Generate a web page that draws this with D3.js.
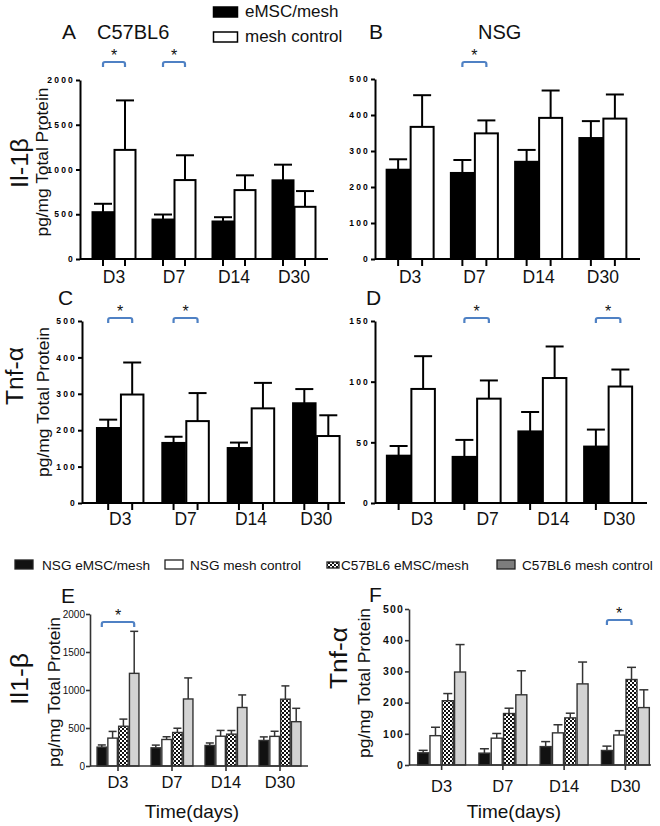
<!DOCTYPE html>
<html>
<head>
<meta charset="utf-8">
<script src="https://cdn.jsdelivr.net/npm/d3@7"></script>
<style>
  html, body { margin: 0; padding: 0; background: #fff; }
  svg { display: block; font-family: "Liberation Sans", Arial, Helvetica, sans-serif; }
</style>
</head>
<body>
<svg id="chart" width="660" height="826"></svg>
<script>
// ---------------- DATA ----------------
const days = ["D3", "D7", "D14", "D30"];

// C57BL6 Il-1β (pg/mg total protein): mean and SEM
const c57Il1bEmsc    = [523, 441, 419, 879];
const c57Il1bEmscErr = [94, 56, 48, 175];
const c57Il1bMesh    = [1219, 882, 770, 583];
const c57Il1bMeshErr = [553, 277, 165, 176];

// NSG Il-1β
const nsgIl1bEmsc    = [248, 239, 270, 336];
const nsgIl1bEmscErr = [29, 36, 33, 47];
const nsgIl1bMesh    = [367, 349, 392, 390];
const nsgIl1bMeshErr = [88, 36, 76, 67];

// C57BL6 Tnf-α
const c57TnfEmsc    = [206, 165, 151, 274];
const c57TnfEmscErr = [23, 17, 15, 39];
const c57TnfMesh    = [298, 225, 260, 184];
const c57TnfMeshErr = [88, 77, 70, 57];

// NSG Tnf-α
const nsgTnfEmsc    = [39, 38, 59, 46.5];
const nsgTnfEmscErr = [8, 14, 16, 14];
const nsgTnfMesh    = [94, 86, 103, 96];
const nsgTnfMeshErr = [27, 15, 26, 14];

// tick labels
const il1bTicks    = [0, 500, 1000, 1500, 2000];
const nsgIl1bTicks = [0, 100, 200, 300, 400, 500];
const tnfTicks     = [0, 100, 200, 300, 400, 500];
const nsgTnfTicks  = [0, 50, 100, 150];

// legends
const topLegend    = ["eMSC/mesh", "mesh control"];
const bottomLegend = ["NSG eMSC/mesh", "NSG mesh control", "C57BL6 eMSC/mesh", "C57BL6 mesh control"];

// significance brackets (day, from series, to series)
const sigA = [{day: "D3", from: 0, to: 1}, {day: "D7", from: 0, to: 1}];
const sigB = [{day: "D7", from: 0, to: 1}];
const sigC = [{day: "D3", from: 0, to: 1}, {day: "D7", from: 0, to: 1}];
const sigD = [{day: "D7", from: 0, to: 1}, {day: "D30", from: 0, to: 1}];
const sigE = [{day: "D3", from: 0, to: 3}];
const sigF = [{day: "D30", from: 0, to: 2}];

// ---------------- DRAWING ----------------
const svg = d3.select("#chart");
const defs = svg.append("defs");
const pat = defs.append("pattern").attr("id", "checker")
  .attr("patternUnits", "userSpaceOnUse").attr("width", 4).attr("height", 4);
pat.append("rect").attr("width", 4).attr("height", 4).attr("fill", "#111");
pat.append("rect").attr("x", 0).attr("y", 0).attr("width", 2).attr("height", 2).attr("fill", "#fff");
pat.append("rect").attr("x", 2).attr("y", 2).attr("width", 2).attr("height", 2).attr("fill", "#fff");

const BLUE = "#4f81c4";

const styleTop = [
  {fill: "#000", stroke: "#000"},
  {fill: "#fff", stroke: "#000"}
];
const styleBottom = [
  {fill: "#111", stroke: "#333"},
  {fill: "#fff", stroke: "#333"},
  {fill: "url(#checker)", stroke: "#333"},
  {fill: "#d3d3d3", stroke: "#333"}
];

function drawPanel(cfg) {
  const g = svg.append("g");
  const x = d3.scaleBand().domain(days).range(cfg.xRange);
  const y = d3.scaleLinear().domain([0, cfg.yMax]).range([cfg.y0, cfg.y1]);
  const n = cfg.series.length;
  const cx = (d, i) => x(d) + x.bandwidth() / 2 + (i - (n - 1) / 2) * cfg.barStep;

  // error bars
  cfg.series.forEach((s, i) => {
    const rows = days.map((d, j) => ({d, v: s.values[j], e: s.err[j]}));
    const eg = g.append("g").attr("stroke", cfg.errColor).attr("stroke-width", cfg.errWidth);
    eg.selectAll("line.v").data(rows).join("line").attr("class", "v")
      .attr("x1", r => cx(r.d, i)).attr("x2", r => cx(r.d, i))
      .attr("y1", r => y(r.v)).attr("y2", r => y(r.v + r.e));
    eg.selectAll("line.c").data(rows).join("line").attr("class", "c")
      .attr("x1", r => cx(r.d, i) - cfg.capW / 2).attr("x2", r => cx(r.d, i) + cfg.capW / 2)
      .attr("y1", r => y(r.v + r.e)).attr("y2", r => y(r.v + r.e));
  });

  // bars
  cfg.series.forEach((s, i) => {
    const rows = days.map((d, j) => ({d, v: s.values[j]}));
    g.append("g").selectAll("rect").data(rows).join("rect")
      .attr("x", r => cx(r.d, i) - cfg.barW / 2)
      .attr("y", r => y(r.v))
      .attr("width", cfg.barW)
      .attr("height", r => y(0) - y(r.v))
      .attr("fill", cfg.styles[i].fill)
      .attr("stroke", cfg.styles[i].stroke)
      .attr("stroke-width", cfg.barStroke);
  });

  // y axis
  const ya = g.append("g").attr("transform", `translate(${cfg.axisX},0)`)
    .call(d3.axisLeft(y).tickValues(cfg.ticks).tickFormat(d3.format("d"))
      .tickSize(cfg.yTickSize).tickSizeOuter(0).tickPadding(1));
  ya.select(".domain").attr("stroke", cfg.axisColor).attr("stroke-width", cfg.axisWidth);
  ya.selectAll(".tick line").attr("stroke", cfg.axisColor).attr("stroke-width", cfg.axisWidth);
  ya.selectAll(".tick text")
    .attr("fill", cfg.tickTextColor)
    .style("font-size", cfg.tickFont + "px")
    .style("font-weight", cfg.tickWeight)
    .style("letter-spacing", cfg.tickSpacing + "px")
    .style("font-family", "'Liberation Sans', Arial, sans-serif");

  // x axis line
  g.append("line")
    .attr("x1", cfg.axisX).attr("x2", cfg.axisEnd)
    .attr("y1", y(0)).attr("y2", y(0))
    .attr("stroke", cfg.axisColor).attr("stroke-width", cfg.axisWidth);

  // x tick marks
  const tickPos = [];
  days.forEach(d => cfg.tickSeries.forEach(i => tickPos.push(i === "c" ? x(d) + x.bandwidth() / 2 : cx(d, i))));
  g.append("g").selectAll("line").data(tickPos).join("line")
    .attr("x1", p => p).attr("x2", p => p)
    .attr("y1", y(0)).attr("y2", y(0) + cfg.xTickLen)
    .attr("stroke", cfg.axisColor).attr("stroke-width", cfg.axisWidth);

  // x labels
  g.append("g").selectAll("text").data(days).join("text")
    .attr("x", d => x(d) + x.bandwidth() / 2 + (cfg.labelDx || 0))
    .attr("y", cfg.labelY)
    .attr("text-anchor", "middle")
    .attr("font-size", cfg.labelFont)
    .attr("fill", "#111")
    .text(d => d);

  // significance brackets
  cfg.sig.forEach(s => {
    const x1 = cx(s.day, s.from), x2 = cx(s.day, s.to);
    const by = cfg.sigY;
    g.append("path")
      .attr("d", `M${x1},${by + 5} L${x1},${by + 2} Q${x1},${by} ${x1 + 2},${by} L${x2 - 2},${by} Q${x2},${by} ${x2},${by + 2} L${x2},${by + 5}`)
      .attr("fill", "none").attr("stroke", BLUE).attr("stroke-width", 2.2);
    g.append("text").attr("x", (x1 + x2) / 2).attr("y", by - 1)
      .attr("text-anchor", "middle").attr("font-size", 16).attr("fill", "#111").text("*");
  });
}

const commonTop = {
  styles: styleTop, errColor: "#000", errWidth: 2, barStroke: 2,
  axisColor: "#000", axisWidth: 2, yTickSize: 4, tickFont: 8.5, tickWeight: "bold",
  tickSpacing: 2.2, tickTextColor: "#000", xTickLen: 7, labelFont: 17.5, capW: 18
};

// Panel A
drawPanel(Object.assign({}, commonTop, {
  xRange: [84, 324], y0: 259, y1: 80, yMax: 2000, ticks: il1bTicks,
  series: [{values: c57Il1bEmsc, err: c57Il1bEmscErr}, {values: c57Il1bMesh, err: c57Il1bMeshErr}],
  barW: 21, barStep: 22, axisX: 80, axisEnd: 328, tickSeries: [0, 1],
  labelY: 283, sig: sigA, sigY: 62
}));
// Panel B
drawPanel(Object.assign({}, commonTop, {
  xRange: [378, 635], y0: 259, y1: 79, yMax: 500, ticks: nsgIl1bTicks,
  series: [{values: nsgIl1bEmsc, err: nsgIl1bEmscErr}, {values: nsgIl1bMesh, err: nsgIl1bMeshErr}],
  barW: 23, barStep: 24, axisX: 375, axisEnd: 640, tickSeries: [0, 1],
  labelY: 283, sig: sigB, sigY: 62
}));
// Panel C
drawPanel(Object.assign({}, commonTop, {
  xRange: [87.5, 349], y0: 503, y1: 321, yMax: 500, ticks: tnfTicks,
  series: [{values: c57TnfEmsc, err: c57TnfEmscErr}, {values: c57TnfMesh, err: c57TnfMeshErr}],
  barW: 22.5, barStep: 24, axisX: 82, axisEnd: 345, tickSeries: [0, 1],
  labelY: 525, sig: sigC, sigY: 318
}));
// Panel D
drawPanel(Object.assign({}, commonTop, {
  xRange: [378, 641], y0: 503, y1: 321, yMax: 150, ticks: nsgTnfTicks,
  series: [{values: nsgTnfEmsc, err: nsgTnfEmscErr}, {values: nsgTnfMesh, err: nsgTnfMeshErr}],
  barW: 23.5, barStep: 24.5, axisX: 375, axisEnd: 647, tickSeries: [0],
  labelY: 525, labelDx: 11, sig: sigD, sigY: 318
}));

const commonBottom = {
  styles: styleBottom, errColor: "#333", errWidth: 1.5, barStroke: 1.4,
  axisColor: "#333", axisWidth: 1.6, yTickSize: 4, tickTextColor: "#111",
  xTickLen: 5, labelFont: 16.5, tickSeries: ["c"]
};
// Panel E
drawPanel(Object.assign({}, commonBottom, {
  xRange: [91, 307], y0: 766, y1: 614, yMax: 2000, ticks: il1bTicks,
  series: [
    {values: nsgIl1bEmsc, err: nsgIl1bEmscErr}, {values: nsgIl1bMesh, err: nsgIl1bMeshErr},
    {values: c57Il1bEmsc, err: c57Il1bEmscErr}, {values: c57Il1bMesh, err: c57Il1bMeshErr}],
  barW: 9.5, barStep: 10.8, capW: 8, axisX: 90, axisEnd: 308,
  tickFont: 10, tickWeight: "normal", tickSpacing: 0,
  labelY: 788, sig: sigE, sigY: 622
}));
// Panel F
drawPanel(Object.assign({}, commonBottom, {
  xRange: [411, 656], y0: 765, y1: 609, yMax: 500, ticks: tnfTicks,
  series: [
    {values: nsgTnfEmsc, err: nsgTnfEmscErr}, {values: nsgTnfMesh, err: nsgTnfMeshErr},
    {values: c57TnfEmsc, err: c57TnfEmscErr}, {values: c57TnfMesh, err: c57TnfMeshErr}],
  barW: 11, barStep: 12.3, capW: 9, axisX: 409, axisEnd: 651,
  tickFont: 10.5, tickWeight: "bold", tickSpacing: 1.2,
  labelY: 792, sig: sigF, sigY: 620
}));

// ---------------- TEXT ----------------
function txt(x, y, s, size, opts = {}) {
  const t = svg.append("text").attr("x", x).attr("y", y).attr("font-size", size)
    .attr("fill", opts.fill || "#111").text(s);
  if (opts.anchor) t.attr("text-anchor", opts.anchor);
  return t;
}
function vtxt(cx, cy, s, size, len) {
  svg.append("text")
    .attr("transform", `translate(${cx},${cy}) rotate(-90)`)
    .attr("text-anchor", "middle").attr("dy", "0.35em")
    .attr("font-size", size).attr("fill", "#111")
    .attr("textLength", len).attr("lengthAdjust", "spacingAndGlyphs")
    .text(s);
}

// panel letters and titles
txt(62, 39, "A", 21);
txt(97, 39, "C57BL6", 20);
txt(369, 39, "B", 21);
txt(478, 39, "NSG", 20);
txt(58, 305, "C", 21);
txt(366, 305, "D", 21);
txt(61, 603, "E", 21);
txt(369, 602, "F", 21);

// big y labels
vtxt(20, 163, "Il-1β", 23, 50);
vtxt(15, 376, "Tnf-α", 23, 58);
vtxt(20, 679, "Il1-β", 23, 52);
vtxt(339, 658, "Tnf-α", 23, 62);

// y titles
vtxt(42, 162, "pg/mg Total Protein", 16.5, 149);
vtxt(43, 402, "pg/mg Total Protein", 16.5, 150);
vtxt(54, 692, "pg/mg Total Protein", 16.5, 150);
vtxt(364, 683, "pg/mg Total Protein", 16.5, 150);

// x titles
txt(192, 818, "Time(days)", 19, {anchor: "middle"});
txt(514, 818, "Time(days)", 19, {anchor: "middle"});

// top legend
const tl = svg.append("g");
tl.selectAll("rect").data(topLegend).join("rect")
  .attr("x", 213.5).attr("y", (d, i) => 7 + i * 25).attr("width", 24).attr("height", 10)
  .attr("fill", (d, i) => styleTop[i].fill).attr("stroke", "#000").attr("stroke-width", 1.5);
tl.selectAll("text").data(topLegend).join("text")
  .attr("x", 245).attr("y", (d, i) => 17 + i * 25).attr("font-size", 17).attr("fill", "#111")
  .text(d => d);

// bottom legend
const blX = [15, 165, 327, 497];
const blTextX = [42, 190, 341, 522];
const blFill = ["#111", "#fff", "url(#checker)", "#7d7d7d"];
const bl = svg.append("g");
bl.selectAll("rect").data(bottomLegend).join("rect")
  .attr("x", (d, i) => blX[i]).attr("y", (d, i) => i === 2 ? 562 : 560)
  .attr("width", (d, i) => i === 2 ? 12 : 18).attr("height", (d, i) => i === 2 ? 6 : 9)
  .attr("fill", (d, i) => blFill[i]).attr("stroke", "#222").attr("stroke-width", 1.3);
bl.selectAll("text").data(bottomLegend).join("text")
  .attr("x", (d, i) => blTextX[i]).attr("y", 570).attr("font-size", 13.6).attr("fill", "#111")
  .text(d => d);
</script>
</body>
</html>
